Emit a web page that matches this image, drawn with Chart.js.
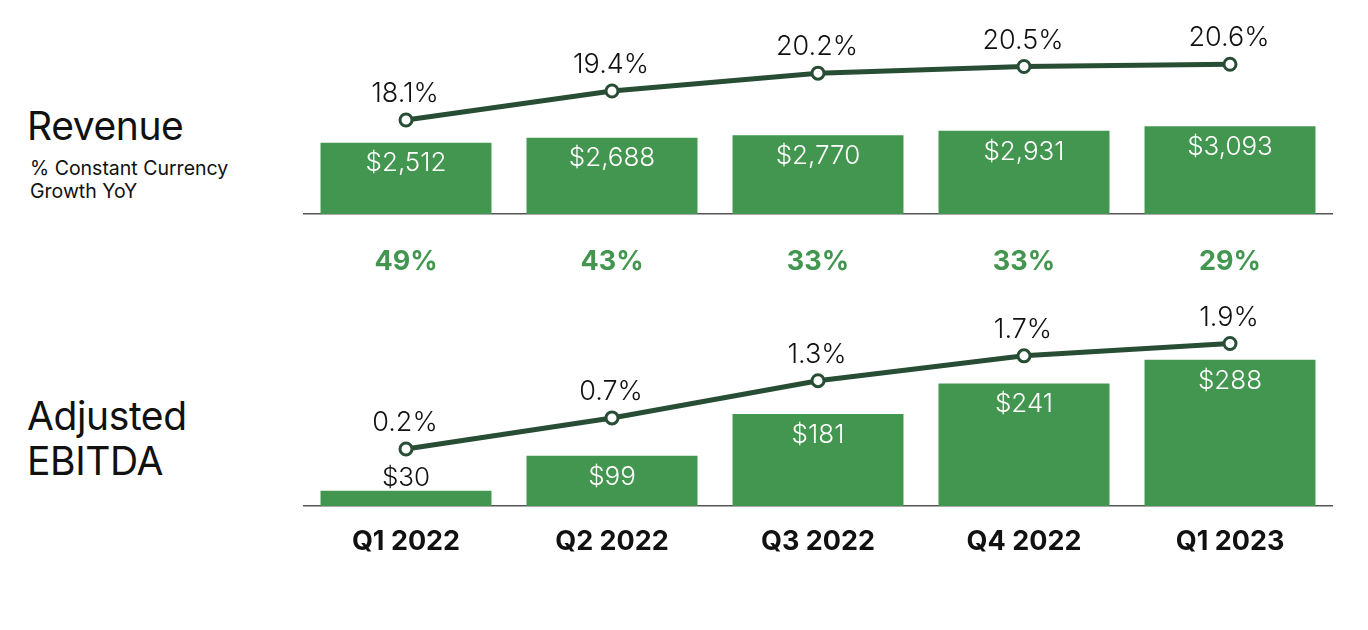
<!DOCTYPE html>
<html><head><meta charset="utf-8">
<script src="https://cdn.jsdelivr.net/npm/chart.js@4"></script>
<style>
html,body{margin:0;padding:0;background:#fff}
body{width:1368px;height:630px;overflow:hidden;position:relative;font-family:Inter,"Noto Sans",sans-serif}
.lbl{position:absolute;color:#111;white-space:nowrap}
.wrap{position:absolute;left:303px;width:1030px;height:300px}
</style></head><body>
<div class="lbl" style="left:27px;top:106px;font-size:39px;line-height:39px;letter-spacing:-0.4px">Revenue</div>
<div class="lbl" style="left:30px;top:157px;font-size:19.5px;line-height:22.5px">% Constant Currency<br>Growth YoY</div>
<div class="lbl" style="left:27px;top:393px;font-size:39px;line-height:45px;letter-spacing:-0.4px">Adjusted<br>EBITDA</div>
<div class="wrap" style="top:0"><canvas id="c1" width="1030" height="300"></canvas></div>
<div class="wrap" style="top:280px"><canvas id="c2" width="1030" height="300"></canvas></div>
<script>
const quarters = ['Q1 2022','Q2 2022','Q3 2022','Q4 2022','Q1 2023'];
const revenue = [2512, 2688, 2770, 2931, 3093];
const revenueMargin = [18.1, 19.4, 20.2, 20.5, 20.6];
const growthYoY = ['49%','43%','33%','33%','29%'];
const ebitda = [30, 99, 181, 241, 288];
const ebitdaMargin = [0.2, 0.7, 1.3, 1.7, 1.9];

const GREEN = '#43964f';
const DARK = '#284d35';
const INK = '#111111';

const valueLabels = {
  id: 'valueLabels',
  afterDatasetsDraw(chart) {
    const ctx = chart.ctx;
    ctx.save();
    ctx.textAlign = 'center';
    ctx.textBaseline = 'middle';
    chart.data.datasets.forEach((ds, i) => {
      const meta = chart.getDatasetMeta(i);
      meta.data.forEach((el, j) => {
        const v = ds.data[j];
        if (ds.type === 'bar') {
          const h = el.base - el.y;
          ctx.font = '300 26px Inter';
          const txt = '$' + v.toLocaleString('en-US');
          if (h < 30) { ctx.fillStyle = INK; ctx.fillText(txt, el.x, el.y - 13); }
          else { ctx.fillStyle = '#ffffff'; ctx.fillText(txt, el.x, el.y + 21); }
        } else {
          ctx.font = '300 27px Inter';
          ctx.fillStyle = INK;
          ctx.fillText(v.toFixed(1) + '%', el.x - 1, el.y - 26);
        }
      });
    });
    ctx.restore();
  }
};

function makeChart(id, bars, line, yMax, y2Min, y2Max, tickLabels, tickColor, tickPad, axisH, padTop) {
  return new Chart(document.getElementById(id), {
    data: {
      labels: quarters,
      datasets: [
        { type: 'line', data: line, yAxisID: 'y2', order: 0,
          borderColor: DARK, borderWidth: 5, tension: 0,
          pointRadius: 6, pointBorderWidth: 3, pointBackgroundColor: '#ffffff', pointBorderColor: DARK,
          pointHoverRadius: 6 },
        { type: 'bar', data: bars, yAxisID: 'y', order: 1,
          backgroundColor: GREEN, barPercentage: 0.83, categoryPercentage: 1 }
      ]
    },
    options: {
      responsive: false,
      animation: false,
      devicePixelRatio: 1,
      layout: { autoPadding: false, padding: { top: padTop, left: 0, right: 0, bottom: 0 } },
      plugins: { legend: { display: false }, tooltip: { enabled: false } },
      scales: {
        x: {
          grid: { display: false, drawTicks: false, tickLength: 0 },
          border: { display: true, color: '#555555', width: 1.5 },
          ticks: {
            padding: tickPad, maxRotation: 0, autoSkip: false, color: tickColor,
            font: { family: 'Inter', size: 27, weight: '700' },
            callback: (v, i) => tickLabels[i]
          },
          afterFit: s => { s.height = axisH; }
        },
        y: { display: false, min: 0, max: yMax },
        y2: { display: false, min: y2Min, max: y2Max }
      }
    },
    plugins: [valueLabels]
  });
}

// Top: chart area 0..214 (H=214)
makeChart('c1', revenue, revenueMargin, 7533, 13.885, 23.481, growthYoY, GREEN, 32, 86, 0);
// Bottom: chart area 300..506 on page (canvas top 280, padTop 20, H=206)
makeChart('c2', ebitda, ebitdaMargin, 405.5, -0.719, 2.60, quarters, INK, 20, 74, 20);
</script>
</body></html>
